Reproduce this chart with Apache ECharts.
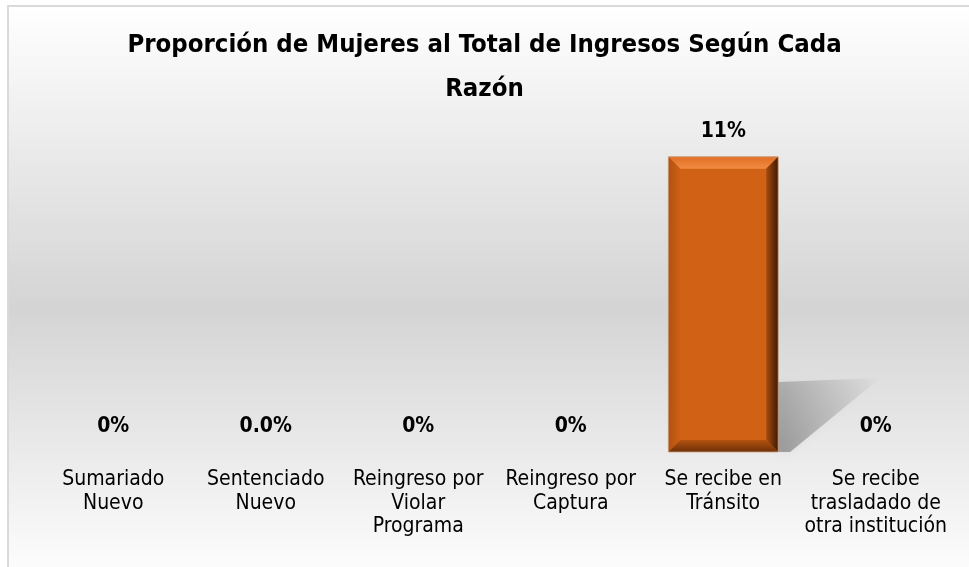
<!DOCTYPE html>
<html>
<head>
<meta charset="utf-8">
<script src="https://cdn.jsdelivr.net/npm/echarts@6/dist/echarts.min.js"></script>
<style>
  html, body { margin: 0; padding: 0; background: #fff; }
  #chart { width: 969px; height: 567px; }
</style>
</head>
<body>
<div id="chart"></div>
<script>
// datos
var categorias = ['Sumariado\nNuevo', 'Sentenciado\nNuevo', 'Reingreso por\nViolar\nPrograma',
  'Reingreso por\nCaptura', 'Se recibe en\nTránsito', 'Se recibe\ntrasladado de\notra institución'];
var proporcion = [0, 0, 0, 0, 11, 0];
var etiquetas = ['0%', '0.0%', '0%', '0%', '11%', '0%'];

var FONT = "'Liberation Sans Narrow', 'DejaVu Sans Condensed', 'Open Sans', sans-serif";

function lg(x, y, x2, y2, c1, c2) {
  return new echarts.graphic.LinearGradient(x, y, x2, y2, [{offset: 0, color: c1}, {offset: 1, color: c2}]);
}

function renderBar(params, api) {
  var i = api.value(0);
  var v = api.value(1);
  var top = api.coord([i, v]);
  var base = api.coord([i, 0]);
  var bw = api.size([1, 0])[0] * 0.72;
  var x0 = top[0] - bw / 2, x1 = top[0] + bw / 2, y0 = top[1], y1 = base[1];
  var b = 12;
  var kids = [];
  if (v > 0) {
    // sombra proyectada
    kids.push({
      type: 'polygon',
      shape: {points: [[x1, y1], [x1, y1 - 70], [x1 + 102, y1 - 74], [x1 + 12, y1]]},
      style: {fill: lg(0, 1, 1, 0, 'rgba(0,0,0,0.32)', 'rgba(0,0,0,0)'), shadowBlur: 8, shadowColor: 'rgba(0,0,0,0.15)'}
    });
    kids.push({type: 'rect', shape: {x: x0, y: y0, width: bw, height: y1 - y0}, style: {fill: '#D16115'}});
    kids.push({type: 'polygon', shape: {points: [[x0, y0], [x1, y0], [x1 - b, y0 + b], [x0 + b, y0 + b]]},
      style: {fill: lg(0, 0, 0, 1, '#E06E24', '#F28D44')}});
    kids.push({type: 'polygon', shape: {points: [[x0, y0], [x0 + b, y0 + b], [x0 + b, y1 - b], [x0, y1]]},
      style: {fill: lg(0, 0, 1, 0, '#B0520F', '#CF6016')}});
    kids.push({type: 'polygon', shape: {points: [[x1, y0], [x1, y1], [x1 - b, y1 - b], [x1 - b, y0 + b]]},
      style: {fill: lg(0, 0, 1, 0, '#A84C10', '#3E1A04')}});
    kids.push({type: 'polygon', shape: {points: [[x0, y1], [x1, y1], [x1 - b, y1 - b], [x0 + b, y1 - b]]},
      style: {fill: lg(0, 0, 0, 1, '#B3520F', '#6E3008')}});
    kids.push({type: 'rect', shape: {x: x0, y: y0, width: bw, height: y1 - y0},
      style: {fill: 'none', stroke: 'rgba(200,160,130,0.8)', lineWidth: 1}});
  }
  kids.push({
    type: 'text',
    style: {
      text: etiquetas[i], x: top[0], y: y0 - 25, align: 'center', verticalAlign: 'middle',
      font: 'bold 21px ' + FONT, fill: '#000'
    }
  });
  return {type: 'group', children: kids};
}

var chart = echarts.init(document.getElementById('chart'));
chart.setOption({
  animation: false,
  graphic: [{
    type: 'rect', left: 7, top: 5, z: -10, silent: true,
    shape: {width: 980, height: 580},
    style: {
      fill: new echarts.graphic.LinearGradient(0, 0, 0, 1, [
        {offset: 0, color: '#ffffff'}, {offset: 0.52, color: '#d4d4d4'}, {offset: 1, color: '#ffffff'}
      ]),
      stroke: '#d9d9d9', lineWidth: 2
    }
  }],
  title: {
    text: 'Proporción de Mujeres al Total de Ingresos Según Cada\nRazón',
    left: 'center', top: 23, padding: 0,
    textStyle: {fontFamily: FONT, fontWeight: 'bold', fontSize: 25.5, lineHeight: 44, color: '#000'}
  },
  grid: {left: 37, right: 17, top: 130, bottom: 115},
  xAxis: {
    type: 'category', data: categorias,
    axisLine: {show: false}, axisTick: {show: false},
    axisLabel: {interval: 0, margin: 16, fontFamily: FONT, fontSize: 21, lineHeight: 23.5, color: '#000'}
  },
  yAxis: {type: 'value', min: 0, max: 12, show: false, splitLine: {show: false}},
  series: [{
    type: 'custom', renderItem: renderBar,
    data: proporcion.map(function (v, i) { return [i, v]; })
  }]
});
</script>
</body>
</html>
